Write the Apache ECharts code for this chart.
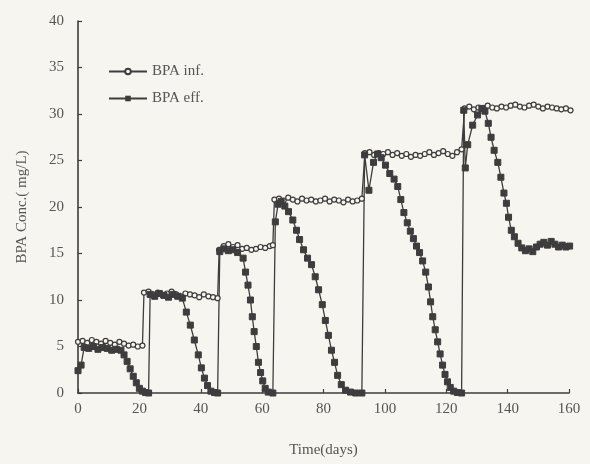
<!DOCTYPE html>
<html>
<head>
<meta charset="utf-8">
<script src="https://cdn.jsdelivr.net/npm/echarts@6/dist/echarts.min.js"></script>
<style>
  html, body { margin: 0; padding: 0; background: #f7f5ef; }
  #chart { width: 590px; height: 464px; }
</style>
</head>
<body>
<div id="chart"></div>
<script>
// BPA influent (open circles)
const infDays = [0, 1.5, 3, 4.5, 6, 7.5, 9, 10.5, 12, 13.5, 15, 16.5, 18, 19.5, 21,
  21.5, 23, 24.5, 26, 27.5, 29, 30.5, 32, 33.5, 35, 36.5, 38, 39.5, 41, 42.5, 44, 45.5,
  46, 47.5, 49, 50.5, 52, 53.5, 55, 56.5, 58, 59.5, 61, 62.5, 63.5,
  64, 65.5, 67, 68.5, 70, 71.5, 73, 74.5, 76, 77.5, 79, 80.5, 82, 83.5, 85, 86.5, 88, 89.5, 91, 92.5,
  93.5, 95, 96.5, 98, 99.5, 101, 102.5, 104, 105.5, 107, 108.5, 110, 111.5, 113, 114.5, 116, 117.5, 119, 120.5, 122, 123.5, 125,
  126, 127.5, 129, 130.5, 132, 133.5, 135, 136.5, 138, 139.5, 141, 142.5, 144, 145.5, 147, 148.5, 150, 151.5, 153, 154.5, 156, 157.5, 159, 160.5]
const infVals = [5.5, 5.6, 5.4, 5.7, 5.5, 5.3, 5.6, 5.4, 5.2, 5.5, 5.3, 5.1, 5.2, 5.0, 5.1,
  10.8, 10.9, 10.6, 10.8, 10.5, 10.7, 10.9, 10.6, 10.4, 10.7, 10.6, 10.5, 10.3, 10.6, 10.4, 10.3, 10.2,
  15.4, 15.8, 16.0, 15.7, 15.9, 15.5, 15.6, 15.4, 15.5, 15.7, 15.6, 15.8, 15.9,
  20.8, 20.9, 20.7, 21.0, 20.8, 20.6, 20.9, 20.7, 20.8, 20.6, 20.7, 20.9, 20.6, 20.8, 20.7, 20.5, 20.8, 20.6, 20.7, 20.9,
  25.8, 25.9, 25.6, 25.8, 25.7, 25.9, 25.6, 25.8, 25.5, 25.7, 25.4, 25.6, 25.5, 25.7, 25.9, 25.6, 25.8, 26.0, 25.7, 25.5, 25.9, 26.2,
  30.6, 30.8, 30.5, 30.7, 30.6, 30.9, 30.7, 30.6, 30.8, 30.7, 30.9, 31.0, 30.8, 30.7, 30.9, 31.0, 30.8, 30.6, 30.8, 30.7, 30.6, 30.5, 30.6, 30.4]

// BPA effluent (filled squares)
const effDays = [0, 1, 2, 3.5, 5, 6.5, 8, 9.5, 11, 12.5, 14, 15, 16, 17, 18, 19, 20, 21, 22, 23,
  23.5, 25, 26.5, 28, 29.5, 31, 32.5, 34, 35.3, 36.6, 37.9, 39.2, 40.2, 41.2, 42.2, 43.3, 44.5, 45.5,
  46.2, 47.5, 49, 50.5, 52, 53.8, 54.6, 55.4, 56.2, 56.8, 57.4, 58.1, 58.8, 59.5, 60.2, 61, 62, 63.5,
  64.3, 65.2, 66.2, 67.4, 68.6, 70, 71.2, 72.2, 73.5, 74.8, 76.1, 77.3, 78.4, 79.6, 80.6, 81.6, 82.6, 83.6, 84.6, 85.8, 87.2, 88.8, 90.5, 92.5,
  93.4, 94.8, 96.3, 97.6, 98.8, 100.2, 101.6, 103, 104.2, 105.2, 106.2, 107.3, 108.3, 109.3, 110.3, 111.3, 112.3, 113.3, 114.2, 114.9, 115.6, 116.4, 117.2, 118, 118.8, 119.6, 120.4, 121.3, 122.4, 123.6, 125,
  125.7, 126.2, 127, 128.6, 130.2, 131.6, 132.6, 133.7, 134.6, 135.6, 136.8, 137.8, 138.8, 139.6, 140.3, 141.2, 142.2, 143.4, 144.6, 145.8, 147, 148.2, 149.4, 150.6, 151.8, 153, 154.2, 155.4, 156.6, 157.8, 159, 160.2]
const effVals = [2.4, 3.0, 4.9, 4.8, 5.0, 4.7, 4.9, 4.8, 4.6, 4.7, 4.6, 4.1, 3.4, 2.6, 1.8, 1.1, 0.5, 0.2, 0.05, 0,
  10.6, 10.4, 10.7, 10.5, 10.3, 10.6, 10.4, 10.2, 8.7, 7.3, 5.7, 4.1, 2.7, 1.6, 0.8, 0.2, 0.05, 0,
  15.2, 15.5, 15.3, 15.4, 15.1, 14.5, 13.0, 11.6, 10.0, 8.2, 6.6, 5.0, 3.3, 2.2, 1.3, 0.5, 0.1, 0,
  18.4, 20.3, 20.6, 20.1, 19.5, 18.6, 17.5, 16.5, 15.4, 14.5, 13.8, 12.5, 11.1, 9.5, 7.8, 6.2, 4.6, 3.3, 1.9, 0.9, 0.3, 0.1, 0, 0,
  25.6, 21.8, 24.8, 25.7, 25.3, 24.5, 23.6, 23.0, 22.2, 20.8, 19.4, 18.3, 17.4, 16.6, 15.8, 15.1, 14.2, 13.0, 11.4, 9.8, 8.2, 6.8, 5.5, 4.2, 3.0, 2.0, 1.2, 0.6, 0.2, 0.05, 0,
  30.4, 24.2, 26.7, 28.8, 29.9, 30.6, 30.3, 29.0, 27.5, 26.1, 24.8, 23.2, 21.5, 20.4, 18.9, 17.5, 16.8, 16.1, 15.6, 15.3, 15.5, 15.2, 15.7, 16.0, 16.2, 15.9, 16.3, 16.0, 15.7, 15.9, 15.7, 15.8]

const xTicks = [0, 20, 40, 60, 80, 100, 120, 140, 160]
const yTicks = [0, 5, 10, 15, 20, 25, 30, 35, 40]

const ink = "#3d3d3d"
const font = "Liberation Serif"

let myChart = echarts.init(document.getElementById("chart"))

const axisCommon = {
  axisLine: { show: true, lineStyle: { color: ink, width: 1.6 } },
  axisTick: { show: true, inside: true, length: 4, lineStyle: { color: ink, width: 1.2 } },
  splitLine: { show: false },
  axisLabel: { color: "#555", fontFamily: font, fontSize: 15 },
  nameTextStyle: { color: "#555", fontFamily: font, fontSize: 15 },
}

myChart.setOption({
  backgroundColor: "#f7f5ef",
  animation: false,
  grid: { left: 78, top: 21, width: 491, height: 372 },
  legend: {
    orient: "vertical",
    left: 103,
    top: 59,
    itemWidth: 38,
    itemHeight: 7,
    itemGap: 12,
    textStyle: { color: "#555", fontFamily: font, fontSize: 15 },
    data: ["BPA inf.", "BPA eff."],
  },
  xAxis: {
    ...axisCommon,
    type: "value",
    min: xTicks[0],
    max: xTicks[xTicks.length - 1],
    interval: 20,
    name: "Time(days)",
    nameLocation: "middle",
    nameGap: 50,
    axisLabel: { ...axisCommon.axisLabel, margin: 9 },
  },
  yAxis: {
    ...axisCommon,
    type: "value",
    min: yTicks[0],
    max: yTicks[yTicks.length - 1],
    interval: 5,
    name: "BPA Conc.( mg/L)",
    nameLocation: "middle",
    nameGap: 48,
    axisLabel: { ...axisCommon.axisLabel, margin: 14 },
  },
  series: [
    {
      name: "BPA inf.",
      type: "line",
      clip: false,
      data: infDays.map((d, i) => [d, infVals[i]]),
      symbol: "circle",
      symbolSize: 5,
      lineStyle: { color: ink, width: 1.3 },
      itemStyle: { color: "#f7f5ef", borderColor: ink, borderWidth: 1.2 },
    },
    {
      name: "BPA eff.",
      type: "line",
      clip: false,
      data: effDays.map((d, i) => [d, effVals[i]]),
      symbol: "rect",
      symbolSize: 6,
      lineStyle: { color: ink, width: 1.3 },
      itemStyle: { color: ink, borderColor: ink },
    },
  ],
})

window.addEventListener("resize", () => {
  myChart.resize()
})
</script>
</body>
</html>
